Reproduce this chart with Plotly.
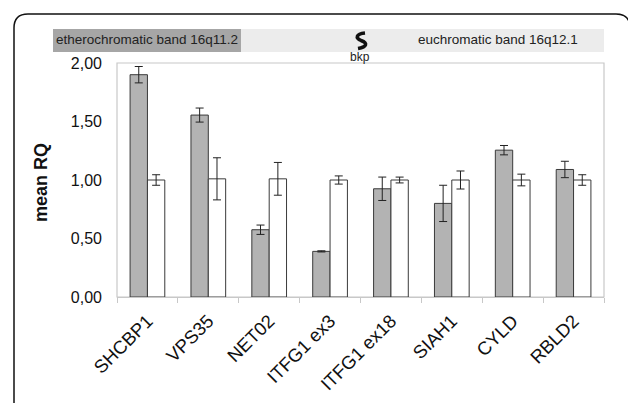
import plotly.graph_objects as go

genes = ["SHCBP1", "VPS35", "NET02", "ITFG1 ex3", "ITFG1 ex18", "SIAH1", "CYLD", "RBLD2"]
grey_vals = [1.90, 1.555, 0.575, 0.39, 0.925, 0.80, 1.255, 1.09]
grey_err = [0.07, 0.06, 0.04, 0.005, 0.10, 0.155, 0.04, 0.07]
white_vals = [1.00, 1.01, 1.01, 1.00, 1.00, 1.00, 1.00, 1.00]
white_err = [0.045, 0.18, 0.14, 0.035, 0.025, 0.077, 0.05, 0.045]
y_ticks = [0, 0.5, 1.0, 1.5, 2.0]

# page body adds an 8px margin; lay out in reference pixels and shift
OFF = 8
W, H = 636 - OFF, 403 - OFF
PX0, PX1, PY0, PY1 = 117, 604, 63, 297

def px(x):
    return (x - PX0) / (PX1 - PX0)

def py(y):
    return (PY1 - y) / (PY1 - PY0)

FONT = "Liberation Sans, Arial, sans-serif"

fig = go.Figure()
fig.add_trace(go.Bar(
    x=genes, y=grey_vals, marker=dict(color="#b3b3b3", line=dict(color="#3a3a3a", width=1)),
    error_y=dict(type="data", array=grey_err, thickness=1, width=4, color="#222"),
    showlegend=False))
fig.add_trace(go.Bar(
    x=genes, y=white_vals, marker=dict(color="#ffffff", line=dict(color="#3a3a3a", width=1)),
    error_y=dict(type="data", array=white_err, thickness=1, width=4, color="#222"),
    showlegend=False))

shapes = []
r = 14
frame = (f"M {px(14)},{py(420)} L {px(14)},{py(14 + r)} Q {px(14)},{py(14)} {px(14 + r)},{py(14)} "
         f"L {px(630 - r)},{py(14)} Q {px(630)},{py(14)} {px(630)},{py(14 + r)} L {px(630)},{py(420)}")
shapes.append(dict(type="path", xref="paper", yref="paper", path=frame,
                   line=dict(color="#111", width=1.5), layer="below"))
shapes.append(dict(type="rect", xref="paper", yref="paper", x0=px(53), x1=px(241), y0=py(52), y1=py(29),
                   fillcolor="#a6a6a6", line=dict(width=0), layer="below"))
shapes.append(dict(type="rect", xref="paper", yref="paper", x0=px(241), x1=px(604), y0=py(52), y1=py(29),
                   fillcolor="#ececec", line=dict(width=0), layer="below"))
sq = (f"M {px(365)},{py(33)} C {px(356)},{py(34)} {px(355)},{py(38)} {px(361)},{py(40.5)} "
      f"C {px(368)},{py(43)} {px(367)},{py(47)} {px(358)},{py(48.5)}")
shapes.append(dict(type="path", xref="paper", yref="paper", path=sq,
                   line=dict(color="#111", width=3.5)))
shapes.append(dict(type="rect", xref="paper", yref="paper", x0=0, x1=1, y0=0, y1=1,
                   line=dict(color="#c8c8c8", width=1.2), layer="below"))

annotations = [
    dict(text="etherochromatic band 16q11.2", x=px(147), y=py(40), xref="paper", yref="paper",
         xanchor="center", yanchor="middle",
         showarrow=False, font=dict(family=FONT, size=13.5, color="#222")),
    dict(text="euchromatic band 16q12.1", x=px(416), y=py(40), xref="paper", yref="paper",
         xanchor="left", yanchor="middle",
         showarrow=False, font=dict(family=FONT, size=13.5, color="#222")),
    dict(text="bkp", x=px(360), y=py(57), xref="paper", yref="paper",
         xanchor="center", yanchor="middle",
         showarrow=False, font=dict(family=FONT, size=12, color="#222")),
    dict(text="<b>mean RQ</b>", x=px(41), y=py(183), xref="paper", yref="paper",
         xanchor="center", yanchor="middle", textangle=-90,
         showarrow=False, font=dict(family=FONT, size=18, color="#111")),
]

fig.update_layout(
    width=W, height=H,
    margin=dict(l=PX0 - OFF, r=W - (PX1 - OFF), t=PY0 - OFF, b=H - (PY1 - OFF), pad=0, autoexpand=False),
    paper_bgcolor="white", plot_bgcolor="white",
    barmode="group", bargap=0.43, bargroupgap=0,
    separators=",.",
    shapes=shapes, annotations=annotations,
    font=dict(family=FONT, color="#111"),
    xaxis=dict(type="category", tickangle=-45, tickson="boundaries", ticks="outside",
               ticklen=5, tickcolor="#c8c8c8", showline=True, linecolor="#c8c8c8",
               automargin=False, ticklabelstandoff=5,
               tickfont=dict(family=FONT, size=18.5, color="#111"), showgrid=False),
    yaxis=dict(range=[0, 2.0], tickvals=y_ticks, tickformat=".2f", showgrid=False,
               zeroline=False, ticks="", ticklabelstandoff=14, automargin=False,
               tickfont=dict(family=FONT, size=16, color="#111")),
)

fig.write_html("out.html")
